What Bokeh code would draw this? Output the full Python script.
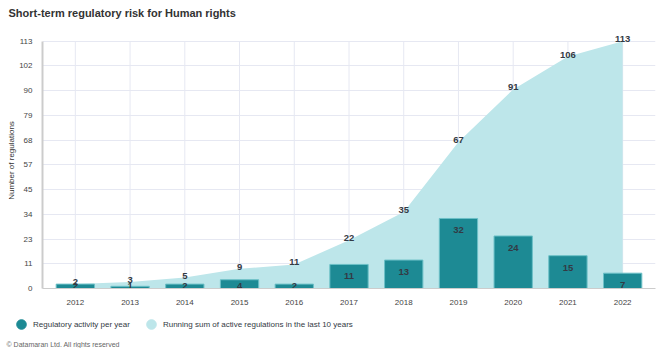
from bokeh.plotting import figure
from bokeh.layouts import column
from bokeh.models import ColumnDataSource, FixedTicker, Legend, LegendItem, Range1d, Label
from bokeh.core.properties import value
from bokeh.embed import file_html
from bokeh.resources import INLINE

years = [2012, 2013, 2014, 2015, 2016, 2017, 2018, 2019, 2020, 2021, 2022]
activity = [2, 1, 2, 4, 2, 11, 13, 32, 24, 15, 7]
running_sum = [2, 3, 5, 9, 11, 22, 35, 67, 91, 106, 113]
y_max = 113
y_tick_count = 10

FONT = "Liberation Sans"
BAR = "#1d8a94"
AREA = "#bde6ea"
TXT = "#333a44"
GRID = "#e6e8f2"

W = 670
H0, H1, H2 = 24, 288, 36
L, R, T, B = 42, 15, 8, 24
y_end = 117  # headroom so the top value label is not clipped


def strip(h):
    f = figure(width=W, height=h, output_backend="svg", toolbar_location=None,
               x_range=Range1d(0, W), y_range=Range1d(0, h),
               min_border=0, x_axis_location=None, y_axis_location=None)
    f.frame_align = False
    f.outline_line_color = None
    f.xgrid.grid_line_color = None
    f.ygrid.grid_line_color = None
    return f


# title strip
t = strip(H0)
t.add_layout(Label(x=8, y=H0 - 12, x_units="screen", y_units="screen",
                   text="Short-term regulatory risk for Human rights", text_font=FONT,
                   text_font_size="11px", text_font_style="bold", text_color="#333",
                   text_baseline="middle"))

p = figure(width=W, height=H1, output_backend="svg", toolbar_location=None,
           x_range=Range1d(years[0] - 0.6, years[-1] + 0.6),
           y_range=Range1d(0, y_end),
           min_border_left=L, min_border_right=R, min_border_top=T, min_border_bottom=B)
p.frame_align = False
p.outline_line_color = None
p.background_fill_color = "white"

# vertical grid lines (only up to the top tick)
p.segment(x0=years, y0=[0] * len(years), x1=years, y1=[y_max] * len(years),
          line_color=GRID, line_width=1)

# area (running sum)
xs = [years[0]] + years + [years[-1]]
ys = [0] + running_sum + [0]
p.patch(xs, ys, fill_color=AREA, line_color=None)

# bars
src = ColumnDataSource(dict(x=years, top=activity))
p.vbar(x="x", top="top", width=0.7, source=src, fill_color=BAR,
       line_color="#6cc0c7", line_width=1)

# bar labels
px_per_unit = (H1 - T - B) / y_end
bar_off = [min(12.0, max(v * px_per_unit - 2.5, 0.0)) for v in activity]
bsrc = ColumnDataSource(dict(x=years, y=activity, t=[str(v) for v in activity], off=bar_off))
p.text(x="x", y="y", text="t", y_offset="off", source=bsrc, text_align="center",
       text_baseline="middle", text_font=value(FONT), text_font_size="9.5px",
       text_font_style="bold", text_color=TXT)

# area labels
asrc = ColumnDataSource(dict(x=years, y=running_sum, t=[str(v) for v in running_sum]))
p.text(x="x", y="y", text="t", y_offset=-2, source=asrc, text_align="center",
       text_baseline="middle", text_font=value(FONT), text_font_size="9.5px",
       text_font_style="bold", text_color=TXT)

# axes
yt = [y_max * i / y_tick_count for i in range(y_tick_count + 1)]
p.yaxis.ticker = FixedTicker(ticks=yt)
p.yaxis.major_label_overrides = {tk: str(int(tk + 0.5)) for tk in yt}
p.yaxis.bounds = (0, y_max)
p.xaxis.ticker = FixedTicker(ticks=years)
for ax in (p.xaxis, p.yaxis):
    ax.major_tick_line_color = None
    ax.minor_tick_line_color = None
    ax.major_label_text_font = FONT
    ax.major_label_text_font_size = "8px"
    ax.major_label_text_color = "#444"
    ax.axis_line_color = "#cccccc"
p.yaxis.axis_line_width = 2
p.yaxis.major_label_standoff = 4
p.xaxis.major_label_standoff = 5
p.yaxis.axis_label = "Number of regulations"
p.yaxis.axis_label_text_font = FONT
p.yaxis.axis_label_text_font_size = "8px"
p.yaxis.axis_label_text_font_style = "normal"
p.yaxis.axis_label_text_color = "#333"
p.yaxis.axis_label_standoff = 0
p.xgrid.grid_line_color = None
p.ygrid.ticker = FixedTicker(ticks=yt)
p.ygrid.grid_line_color = GRID

# legend + footer strip
q = strip(H2)
# legend-only renderers, kept outside the visible range
r1 = q.scatter([-100], [-100], marker="circle", size=10, fill_color=BAR, line_color=BAR)
r2 = q.scatter([-100], [-100], marker="circle", size=10, fill_color=AREA, line_color=AREA)
legend = Legend(items=[LegendItem(label="Regulatory activity per year", renderers=[r1]),
                       LegendItem(label="Running sum of active regulations in the last 10 years", renderers=[r2])],
                orientation="horizontal", location=(9, H2 - 24),
                label_text_font=FONT, label_text_font_size="8px", label_text_color=TXT,
                glyph_width=24, glyph_height=24, label_standoff=-5, spacing=9,
                padding=0, margin=0, border_line_color=None, background_fill_alpha=0)
q.add_layout(legend, "center")
q.add_layout(Label(x=6, y=H2 - 32, x_units="screen", y_units="screen",
                   text="© Datamaran Ltd. All rights reserved", text_font=FONT,
                   text_font_size="7px", text_color="#666", text_baseline="middle"))

open("out.html", "w").write(file_html(column(t, p, q, spacing=0), INLINE))
